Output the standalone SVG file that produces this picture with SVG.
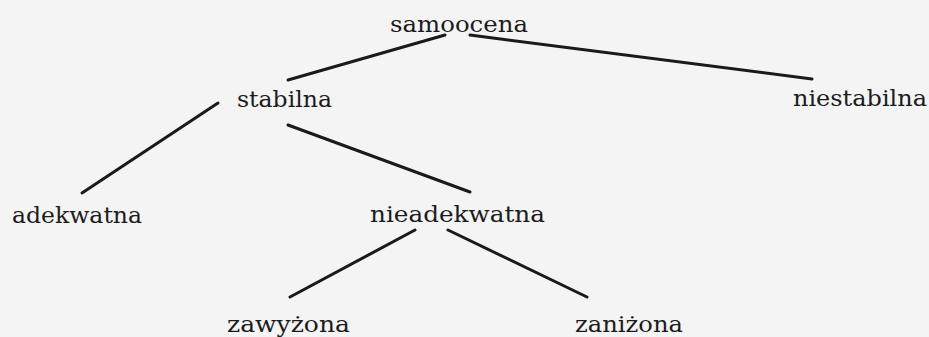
<svg xmlns="http://www.w3.org/2000/svg" width="929" height="337" viewBox="0 0 929 337">
<style>
.bg{fill:#f4f4f4}
.lbl{font-family:"DejaVu Serif","Liberation Serif",serif;font-size:23px;fill:#1c1c1c}
.edge{stroke:#1a1a1a;stroke-width:3;stroke-linecap:round;fill:none}
</style>
<rect class="bg" x="0" y="0" width="929" height="337"/>
<g id="connectors">
<line class="edge" x1="445" y1="35" x2="288" y2="80"/>
<line class="edge" x1="470" y1="35" x2="812" y2="79"/>
<line class="edge" x1="218" y1="103" x2="82" y2="193"/>
<line class="edge" x1="288" y1="125" x2="470" y2="192"/>
<line class="edge" x1="415" y1="230" x2="290" y2="297"/>
<line class="edge" x1="448" y1="230" x2="587" y2="297"/>
</g>
<g id="samoocena"><text class="lbl" x="390" y="32" textLength="138" lengthAdjust="spacingAndGlyphs">samoocena</text></g>
<g id="stabilna"><text class="lbl" x="237" y="107" textLength="95" lengthAdjust="spacingAndGlyphs">stabilna</text></g>
<g id="niestabilna"><text class="lbl" x="793" y="106" textLength="134" lengthAdjust="spacingAndGlyphs">niestabilna</text></g>
<g id="adekwatna"><text class="lbl" x="12" y="223" textLength="130" lengthAdjust="spacingAndGlyphs">adekwatna</text></g>
<g id="nieadekwatna"><text class="lbl" x="370" y="222" textLength="175" lengthAdjust="spacingAndGlyphs">nieadekwatna</text></g>
<g id="zawyzona"><text class="lbl" x="227" y="332" textLength="123" lengthAdjust="spacingAndGlyphs">zawyżona</text></g>
<g id="zanizona"><text class="lbl" x="575" y="332" textLength="108" lengthAdjust="spacingAndGlyphs">zaniżona</text></g>
</svg>
